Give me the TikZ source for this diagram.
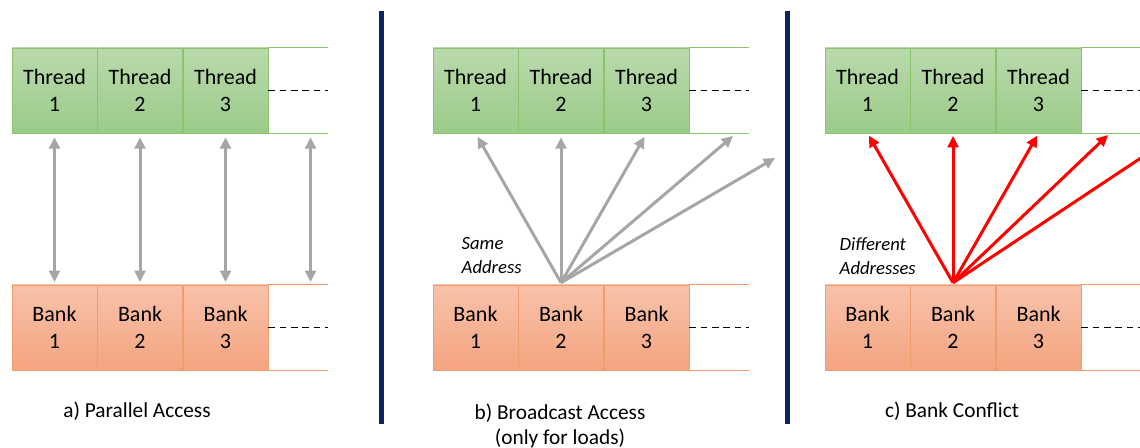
\documentclass[tikz,border=0pt]{standalone}
\usepackage{fontspec}
\setmainfont{Carlito}
\usetikzlibrary{arrows.meta,positioning,calc}
\definecolor{thtop}{RGB}{186,218,172}
\definecolor{thbot}{RGB}{154,203,136}
\definecolor{thedge}{RGB}{140,196,110}
\definecolor{bktop}{RGB}{248,194,170}
\definecolor{bkbot}{RGB}{244,164,128}
\definecolor{bkedge}{RGB}{240,156,108}
\definecolor{navy}{RGB}{12,36,102}
\definecolor{arrgray}{RGB}{166,166,166}

\begin{document}
\begin{tikzpicture}[x=0.75pt,y=-0.75pt]
        \tikzset{
            cell/.style={minimum width=63.75pt,minimum height=63.75pt,inner sep=0pt,align=center,
                font=\fontsize{16.5}{20.5}\selectfont},
            thcell/.style={cell,draw=thedge,top color=thtop,bottom color=thbot},
            bkcell/.style={cell,draw=bkedge,top color=bktop,bottom color=bkbot},
            dots/.style={line width=1.2pt,dash pattern=on 5pt off 3.5pt},
            garrow/.style={arrgray,line width=2.25pt,-{Triangle[length=8.5pt,width=8pt]}},
            rarrow/.style={red,line width=2.25pt,-{Triangle[length=8.5pt,width=8pt]}},
            sepline/.style={navy,line width=3.75pt},
            caption/.style={font=\fontsize{16}{19}\selectfont,align=center},
            note/.style={font=\fontsize{14}{18}\selectfont\itshape,align=left,anchor=west}
        }
        \useasboundingbox (0,0) rectangle (1140,448);
        \clip (0,0) rectangle (1140,448);
        \foreach \p/\x in {A/54.5,B/475.5,C/867.5}{
            \node[thcell] (th\p1) at (\x,90.5) {Thread\\1};
            \node[thcell,right=0pt of th\p1] (th\p2) {Thread\\2};
            \node[thcell,right=0pt of th\p2] (th\p3) {Thread\\3};
            \node[bkcell] (bk\p1) at (\x,327.5) {Bank\\1};
            \node[bkcell,right=0pt of bk\p1] (bk\p2) {Bank\\2};
            \node[bkcell,right=0pt of bk\p2] (bk\p3) {Bank\\3};
            \draw[thedge] (th\p3.north east) -- ++(60,0);
            \draw[thedge] (th\p3.south east) -- ++(60,0);
            \draw[bkedge] (bk\p3.north east) -- ++(60,0);
            \draw[bkedge] (bk\p3.south east) -- ++(60,0);
            \draw[dots] (th\p3.east) -- ++(60,0);
            \draw[dots] (bk\p3.east) -- ++(60,0);
        }
        \coordinate (thA4) at ($(thA3.south)+(85,0)$);
        \coordinate (bkA4) at ($(bkA3.north)+(85,0)$);
        \draw[garrow,{Triangle[length=8.5pt,width=8pt]}-{Triangle[length=8.5pt,width=8pt]},shorten <=3pt,shorten >=2pt] (thA1.south) -- (bkA1.north);
        \draw[garrow,{Triangle[length=8.5pt,width=8pt]}-{Triangle[length=8.5pt,width=8pt]},shorten <=3pt,shorten >=2pt] (thA2.south) -- (bkA2.north);
        \draw[garrow,{Triangle[length=8.5pt,width=8pt]}-{Triangle[length=8.5pt,width=8pt]},shorten <=3pt,shorten >=2pt] (thA3.south) -- (bkA3.north);
        \draw[garrow,{Triangle[length=8.5pt,width=8pt]}-{Triangle[length=8.5pt,width=8pt]},shorten <=3pt,shorten >=2pt] (thA4) -- (bkA4);
        \coordinate (srcB) at ($(bkB2.north)+(0,-2)$);
        \coordinate (tgtB4) at (733,136);
        \coordinate (tgtB5) at (775,158);
        \draw[garrow,shorten >=3pt] (srcB) -- (thB1.south);
        \draw[garrow,shorten >=3pt] (srcB) -- (thB2.south);
        \draw[garrow,shorten >=3pt] (srcB) -- (thB3.south);
        \draw[garrow] (srcB) -- (tgtB4);
        \draw[garrow] (srcB) -- (tgtB5);
        \coordinate (srcC) at ($(bkC2.north)+(0,-2)$);
        \coordinate (tgtC4) at (1108,135);
        \coordinate (tgtC5) at (1168,140);
        \draw[rarrow,shorten >=2pt] (srcC) -- (thC1.south);
        \draw[rarrow,shorten >=2pt] (srcC) -- (thC2.south);
        \draw[rarrow,shorten >=2pt] (srcC) -- (thC3.south);
        \draw[rarrow] (srcC) -- (tgtC4);
        \draw[rarrow] (srcC) -- (tgtC5);
        \node[note] (sameB) at (457,256) {Same\\Address};
        \node[note] (diffC) at (835,256) {Different\\Addresses};
        \draw[sepline] (381.5,11) -- (381.5,424);
        \draw[sepline] (787.5,11) -- (787.5,424);
        \node[caption] (capA) at (137,411) {a) Parallel Access};
        \node[caption,anchor=north] (capB) at (560,399) {b) Broadcast Access\\(only for loads)};
        \node[caption] (capC) at (952,411) {c) Bank Conflict};
\end{tikzpicture}
\end{document}
